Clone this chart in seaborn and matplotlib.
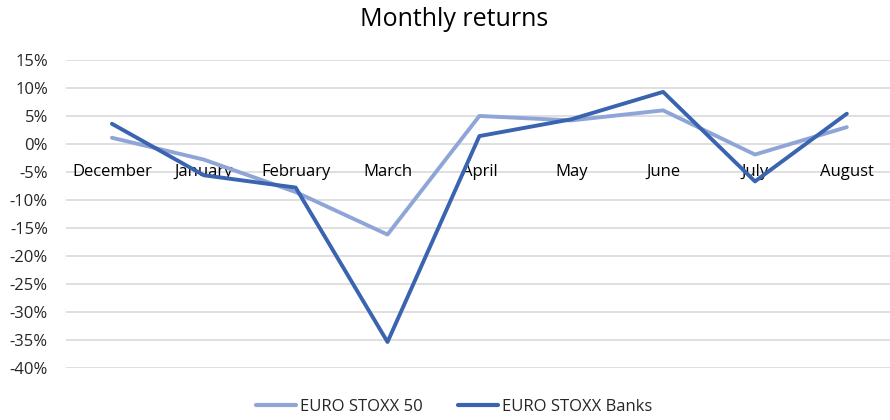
import matplotlib
matplotlib.use("Agg")
import matplotlib.pyplot as plt
import seaborn as sns
import pandas as pd
from matplotlib.ticker import FuncFormatter

months = ["December", "January", "February", "March", "April", "May", "June", "July", "August"]
stoxx50 = [1.1, -2.8, -8.6, -16.2, 5.0, 4.2, 6.0, -1.9, 3.0]
banks = [3.6, -5.6, -7.8, -35.4, 1.4, 4.4, 9.3, -6.7, 5.4]
series_names = ["EURO STOXX 50", "EURO STOXX Banks"]
colors = ["#8FA5D8", "#3A63B0"]

df = pd.DataFrame({
    "x": list(range(len(months))) * 2,
    "value": stoxx50 + banks,
    "series": [series_names[0]] * len(months) + [series_names[1]] * len(months),
})

sns.set_theme(style="white")
plt.rcParams["font.family"] = ["Open Sans", "DejaVu Sans"]

fig = plt.figure(figsize=(8.9, 4.2), dpi=100)
ax = fig.add_axes([66 / 890, 52.3 / 420, 1 - 66 / 890, 307.7 / 420])

sns.lineplot(data=df, x="x", y="value", hue="series", palette=colors,
             linewidth=2.8, ax=ax, legend=False, sort=False)

ax.set_ylim(-40, 15)
ax.set_xlim(-0.5, 8.47)
ax.set_yticks(range(-40, 16, 5))
ax.yaxis.set_major_formatter(FuncFormatter(lambda v, p: f"{int(v)}%"))
ax.grid(axis="y", color="#D9D9D9", linewidth=1.2)
ax.set_axisbelow(True)

ax.set_xticks(range(len(months)))
ax.set_xticklabels(months)
ax.spines["bottom"].set_position(("data", 0))
for s in ["top", "right", "left", "bottom"]:
    ax.spines[s].set_visible(False)
ax.tick_params(axis="x", length=0, pad=14.5, labelsize=12, colors="#000000")
ax.tick_params(axis="y", length=0, pad=13, labelsize=12, colors="#000000")
ax.xaxis.set_zorder(1.5)
for lbl in ax.get_yticklabels():
    lbl.set_color("#262626")
ax.set_xlabel("")
ax.set_ylabel("")

fig.text(454 / 890, 1 - 20 / 420, "Monthly returns", ha="center", va="center",
         fontsize=18, color="#000000")

handles = [plt.Line2D([], [], color=c, linewidth=3) for c in colors]
fig.legend(handles, series_names, loc="center", bbox_to_anchor=(454 / 890, 1 - 406.7 / 420),
           ncol=2, frameon=False, fontsize=12, handlelength=2.4, handletextpad=0.25,
           columnspacing=2.1)

fig.savefig("out.png", dpi=100)
